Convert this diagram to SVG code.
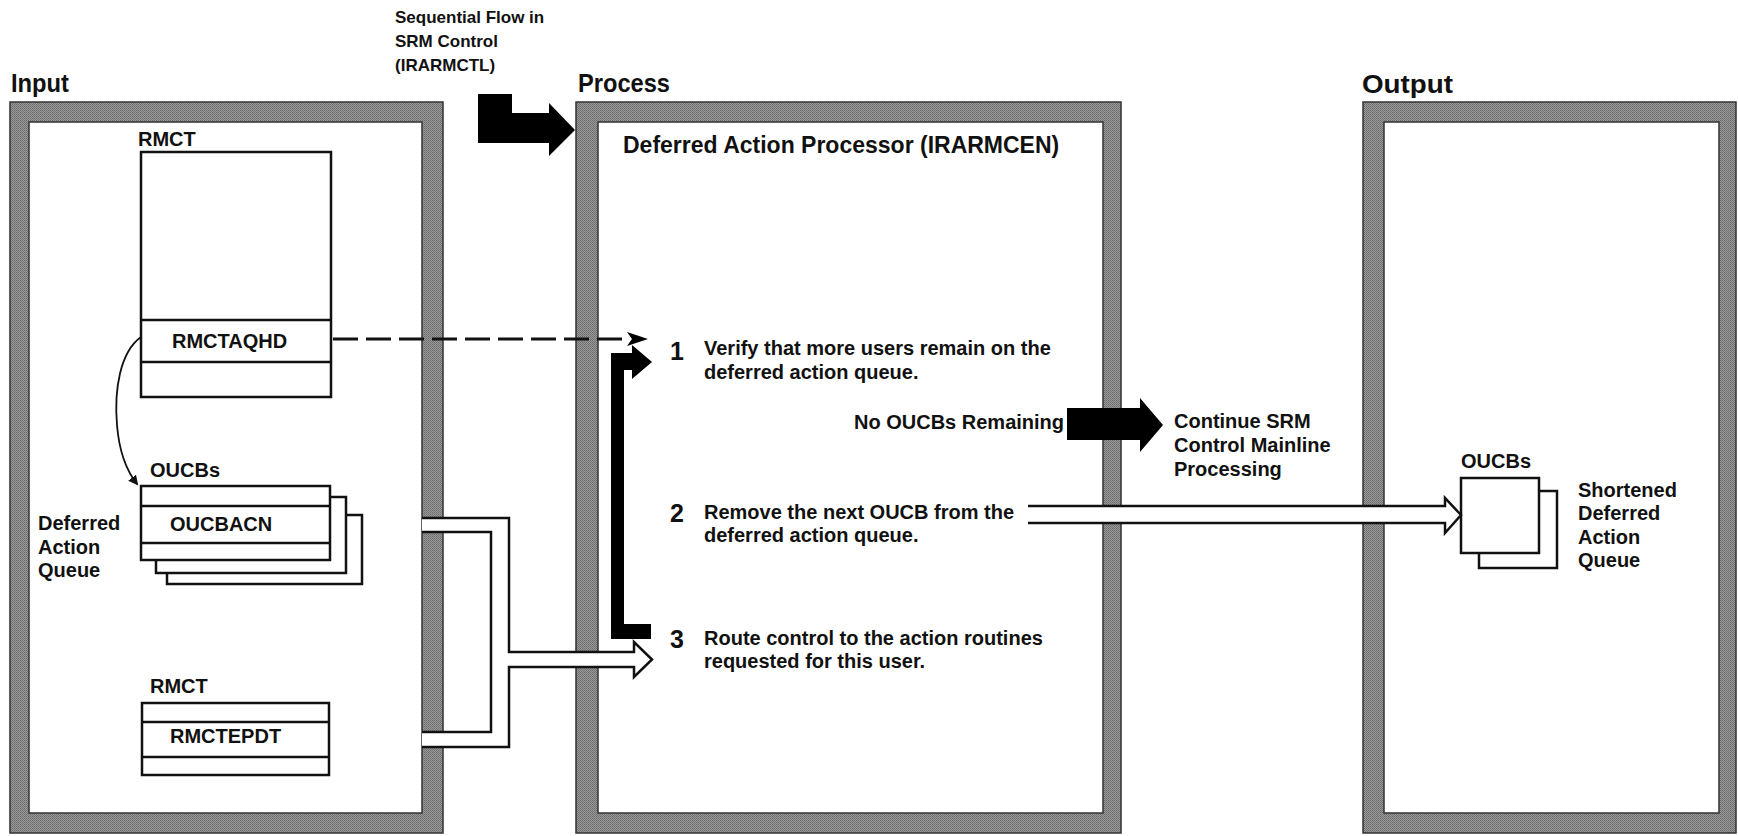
<svg xmlns="http://www.w3.org/2000/svg" width="1738" height="836" viewBox="0 0 1738 836">
<defs>
<style>
.t{font-family:"Liberation Sans",Arial,sans-serif;font-weight:bold;font-size:20px;fill:#111}
.s{font-family:"Liberation Sans",Arial,sans-serif;font-weight:bold;font-size:17px;fill:#111}
.h{font-family:"Liberation Sans",Arial,sans-serif;font-weight:bold;font-size:26px;fill:#111}
.ttl{font-family:"Liberation Sans",Arial,sans-serif;font-weight:bold;font-size:23px;fill:#111}
.num{font-family:"Liberation Sans",Arial,sans-serif;font-weight:bold;font-size:25px;fill:#111}
.frame{fill:url(#dither);fill-rule:evenodd;stroke:#333;stroke-width:1.5}
.box{fill:#fff;stroke:#111;stroke-width:2.5}
.div{stroke:#111;stroke-width:2.5;fill:none}
.blk{fill:#000}
.hol{fill:#fff;stroke:none}
.hl{fill:none;stroke:#111;stroke-width:2.5;stroke-linejoin:miter}
</style>
<pattern id="dither" x="0" y="0" width="2" height="2" patternUnits="userSpaceOnUse">
<rect width="2" height="2" fill="#9a9a9a"/>
<rect width="1" height="1" fill="#6a6a6a"/>
<rect x="1" y="1" width="1" height="1" fill="#767676"/>
</pattern>
<marker id="ah" markerWidth="10" markerHeight="10" refX="8" refY="5" orient="auto" markerUnits="userSpaceOnUse">
<path d="M0,0 L10,5 L0,10 Z" fill="#111"/>
</marker>
</defs>
<rect width="1738" height="836" fill="#fff"/>

<g id="headings">
<text class="h" x="11" y="92" textLength="58" lengthAdjust="spacingAndGlyphs">Input</text>
<text class="h" x="578" y="92" textLength="92" lengthAdjust="spacingAndGlyphs">Process</text>
<text class="h" x="1362" y="93" textLength="91" lengthAdjust="spacingAndGlyphs">Output</text>
</g>

<g id="input-panel">
<path class="frame" d="M10,102 H443 V833 H10 Z M29,122 V813 H422 V122 Z"/>
</g>
<g id="process-panel">
<path class="frame" d="M576,102 H1121 V833 H576 Z M598,122 V813 H1103 V122 Z"/>
<text class="ttl" x="623" y="153">Deferred Action Processor (IRARMCEN)</text>
</g>
<g id="output-panel">
<path class="frame" d="M1363,102 H1736 V833 H1363 Z M1384,122 V813 H1719 V122 Z"/>
</g>

<g id="seq-label">
<text class="s" x="395" y="23">Sequential Flow in</text>
<text class="s" x="395" y="47">SRM Control</text>
<text class="s" x="395" y="71">(IRARMCTL)</text>
</g>

<g id="rmct-top">
<text class="t" x="138" y="146">RMCT</text>
<rect class="box" x="141" y="152" width="190" height="245"/>
<line class="div" x1="141" y1="320" x2="331" y2="320"/>
<line class="div" x1="141" y1="362" x2="331" y2="362"/>
<text class="t" x="172" y="348">RMCTAQHD</text>
</g>

<g id="oucbs-input">
<text class="t" x="150" y="477">OUCBs</text>
<rect class="box" x="167" y="515" width="195" height="69"/>
<rect class="box" x="156" y="497" width="190" height="76"/>
<rect class="box" x="141" y="486" width="189" height="74"/>
<line class="div" x1="141" y1="506" x2="330" y2="506"/>
<line class="div" x1="141" y1="543" x2="330" y2="543"/>
<text class="t" x="170" y="531">OUCBACN</text>
<text class="t" x="38" y="530">Deferred</text>
<text class="t" x="38" y="554">Action</text>
<text class="t" x="38" y="577">Queue</text>
</g>

<g id="rmct-bottom">
<text class="t" x="150" y="693">RMCT</text>
<rect class="box" x="142" y="703" width="187" height="72"/>
<line class="div" x1="142" y1="722" x2="329" y2="722"/>
<line class="div" x1="142" y1="757" x2="329" y2="757"/>
<text class="t" x="170" y="743">RMCTEPDT</text>
</g>

<g id="step1">
<text class="num" x="670" y="360">1</text>
<text class="t" x="704" y="355">Verify that more users remain on the</text>
<text class="t" x="704" y="379">deferred action queue.</text>
</g>
<g id="no-oucbs">
<text class="t" x="854" y="429">No OUCBs Remaining</text>
</g>
<g id="step2">
<text class="num" x="670" y="522">2</text>
<text class="t" x="704" y="519">Remove the next OUCB from the</text>
<text class="t" x="704" y="542">deferred action queue.</text>
</g>
<g id="step3">
<text class="num" x="670" y="648">3</text>
<text class="t" x="704" y="645">Route control to the action routines</text>
<text class="t" x="704" y="668">requested for this user.</text>
</g>
<g id="continue">
<text class="t" x="1174" y="428">Continue SRM</text>
<text class="t" x="1174" y="452">Control Mainline</text>
<text class="t" x="1174" y="476">Processing</text>
</g>

<g id="oucbs-output">
<text class="t" x="1461" y="468">OUCBs</text>
<rect class="box" x="1479" y="491" width="78" height="77"/>
<rect class="box" x="1461" y="478" width="78" height="75"/>
<text class="t" x="1578" y="497">Shortened</text>
<text class="t" x="1578" y="520">Deferred</text>
<text class="t" x="1578" y="544">Action</text>
<text class="t" x="1578" y="567">Queue</text>
</g>

<g id="connectors">
<polygon class="blk" points="478,94 512,94 512,113 549,113 549,103 575,130 549,156 549,143 478,143"/>
<path d="M141,337 C120,352 114,390 117,425 C119,450 126,470 137,484" fill="none" stroke="#111" stroke-width="1.8" marker-end="url(#ah)"/>
<line x1="333" y1="339" x2="630" y2="339" stroke="#111" stroke-width="3" stroke-dasharray="25 8"/>
<polygon class="blk" points="627,332 648,339 627,346 632,339"/>
<polygon class="blk" points="611,353 632,353 632,345 652,362 632,379 632,370 624,370 624,624 651,624 651,639 611,639"/>
<polygon class="blk" points="1067,408 1140,408 1140,398 1163,425 1140,452 1140,440 1067,440"/>
<polygon class="hol" points="1028,506 1445,506 1445,498 1461,515 1445,533 1445,523 1028,523"/>
<polyline class="hl" points="1028,506 1445,506 1445,498 1461,515 1445,533 1445,523 1028,523"/>
<polygon class="hol" points="422,518 509,518 509,652 634,652 634,642 652,659.5 634,677 634,667 509,667 509,747 422,747 422,732 491,732 491,532 422,532"/>
<polyline class="hl" points="422,518 509,518 509,652 634,652 634,642 652,659.5 634,677 634,667 509,667 509,747 422,747"/>
<polyline class="hl" points="422,532 491,532 491,732 422,732"/>
</g>
</svg>
